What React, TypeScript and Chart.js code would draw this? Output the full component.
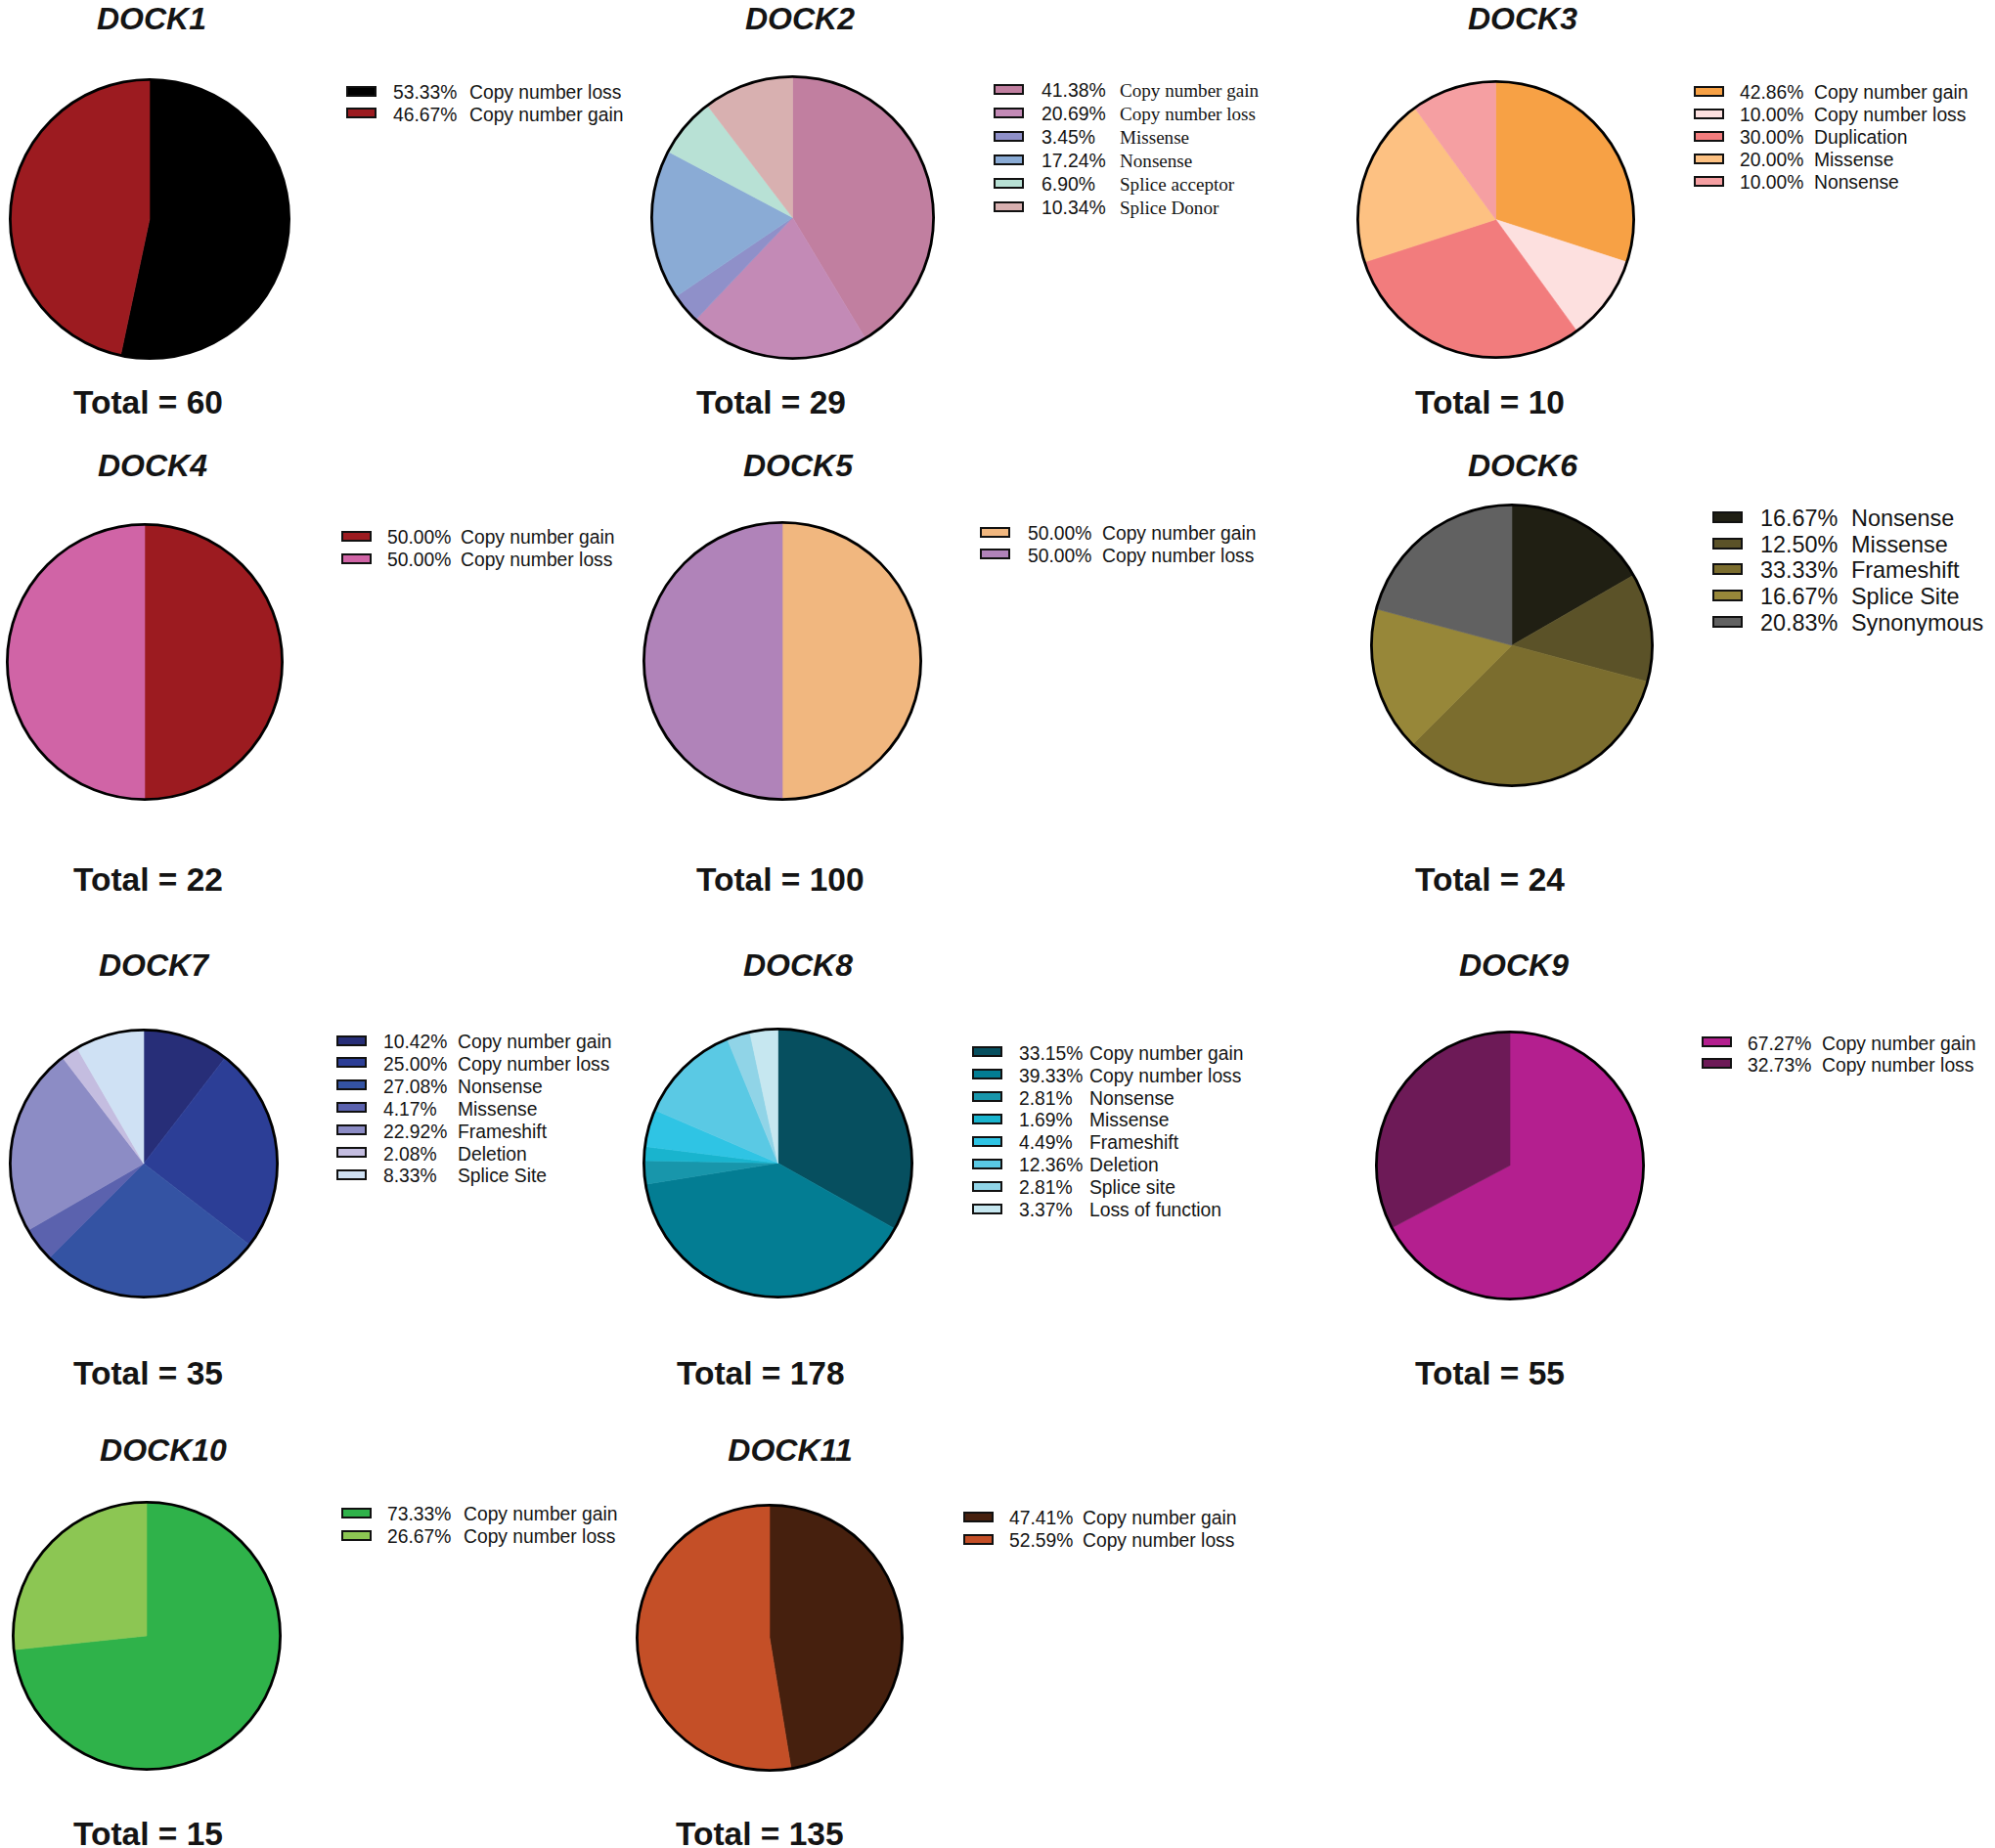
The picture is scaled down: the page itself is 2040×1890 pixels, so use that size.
import React, { useEffect, useRef } from 'react';
import { Chart, registerables } from 'chart.js';
Chart.register(...registerables);

const SANS = "'Liberation Sans', Arial, Helvetica, sans-serif";
const SERIF = "'Liberation Serif', 'Times New Roman', serif";

// ---------- DATA ----------
const dock1Labels = ['Copy number loss', 'Copy number gain'];
const dock1Pct = ['53.33%', '46.67%'];
const dock1Values = [53.33, 46.67];
const dock1Colors = ['#000000', '#9c1b20'];

const dock2Labels = ['Copy number gain', 'Copy number loss', 'Missense', 'Nonsense', 'Splice acceptor', 'Splice Donor'];
const dock2Pct = ['41.38%', '20.69%', '3.45%', '17.24%', '6.90%', '10.34%'];
const dock2Values = [41.38, 20.69, 3.45, 17.24, 6.9, 10.34];
const dock2Colors = ['#c17fa0', '#c38ab6', '#8f90c9', '#8aabd5', '#b8e1d5', '#d8b0b0'];

const dock3Labels = ['Copy number gain', 'Copy number loss', 'Duplication', 'Missense', 'Nonsense'];
const dock3Pct = ['42.86%', '10.00%', '30.00%', '20.00%', '10.00%'];
const dock3Values = [30, 10, 30, 20, 10];
const dock3Colors = ['#f7a145', '#fde0df', '#f27c7d', '#fdc182', '#f59fa2'];

const dock4Labels = ['Copy number gain', 'Copy number loss'];
const dock4Pct = ['50.00%', '50.00%'];
const dock4Values = [50, 50];
const dock4Colors = ['#9c1b20', '#d064a6'];

const dock5Labels = ['Copy number gain', 'Copy number loss'];
const dock5Pct = ['50.00%', '50.00%'];
const dock5Values = [50, 50];
const dock5Colors = ['#f1b77f', '#b083b9'];

const dock6Labels = ['Nonsense', 'Missense', 'Frameshift', 'Splice Site', 'Synonymous'];
const dock6Pct = ['16.67%', '12.50%', '33.33%', '16.67%', '20.83%'];
const dock6Values = [16.67, 12.5, 33.33, 16.67, 20.83];
const dock6Colors = ['#201f13', '#5b5228', '#7b6d2e', '#978739', '#616161'];

const dock7Labels = ['Copy number gain', 'Copy number loss', 'Nonsense', 'Missense', 'Frameshift', 'Deletion', 'Splice Site'];
const dock7Pct = ['10.42%', '25.00%', '27.08%', '4.17%', '22.92%', '2.08%', '8.33%'];
const dock7Values = [10.42, 25.0, 27.08, 4.17, 22.92, 2.08, 8.33];
const dock7Colors = ['#272e78', '#2c3e96', '#3453a3', '#5b62ae', '#8c8cc5', '#c4bde0', '#cfe1f4'];

const dock8Labels = ['Copy number gain', 'Copy number loss', 'Nonsense', 'Missense', 'Frameshift', 'Deletion', 'Splice site', 'Loss of function'];
const dock8Pct = ['33.15%', '39.33%', '2.81%', '1.69%', '4.49%', '12.36%', '2.81%', '3.37%'];
const dock8Values = [33.15, 39.33, 2.81, 1.69, 4.49, 12.36, 2.81, 3.37];
const dock8Colors = ['#064f5f', '#037d93', '#1896ab', '#19b4ce', '#2fc4e4', '#5ac9e4', '#90d4e7', '#c6e7f0'];

const dock9Labels = ['Copy number gain', 'Copy number loss'];
const dock9Pct = ['67.27%', '32.73%'];
const dock9Values = [67.27, 32.73];
const dock9Colors = ['#b41f8f', '#6d1a57'];

const dock10Labels = ['Copy number gain', 'Copy number loss'];
const dock10Pct = ['73.33%', '26.67%'];
const dock10Values = [73.33, 26.67];
const dock10Colors = ['#2fb24a', '#8cc653'];

const dock11Labels = ['Copy number gain', 'Copy number loss'];
const dock11Pct = ['47.41%', '52.59%'];
const dock11Values = [47.41, 52.59];
const dock11Colors = ['#46200e', '#c44f27'];

const titles = ['DOCK1', 'DOCK2', 'DOCK3', 'DOCK4', 'DOCK5', 'DOCK6', 'DOCK7', 'DOCK8', 'DOCK9', 'DOCK10', 'DOCK11'];
const totals = [60, 29, 10, 22, 100, 24, 35, 178, 55, 15, 135];

// ---------- LAYOUT ----------
type Panel = {
  labels: string[]; pct: string[]; values: number[]; colors: string[];
  cx: number; cy: number; r: number;
  tx: number; ty: number; totX: number; totY: number;
  boxX: number; numX: number; labX: number; rowY: number; step: number; fs: number; serifLabels?: boolean;
};

const panels: Panel[] = [
  { labels: dock1Labels, pct: dock1Pct, values: dock1Values, colors: dock1Colors, cx: 153, cy: 224, r: 144, tx: 155, ty: 18.5, totX: 75, totY: 411, boxX: 354, numX: 402, labX: 480, rowY: 93, step: 22.5, fs: 19.3 },
  { labels: dock2Labels, pct: dock2Pct, values: dock2Values, colors: dock2Colors, cx: 810, cy: 222.5, r: 145.5, tx: 818, ty: 18.5, totX: 712, totY: 411, boxX: 1016, numX: 1065, labX: 1145, rowY: 91, step: 24, fs: 19.4, serifLabels: true },
  { labels: dock3Labels, pct: dock3Pct, values: dock3Values, colors: dock3Colors, cx: 1529, cy: 224, r: 142.5, tx: 1557, ty: 18.5, totX: 1447, totY: 411, boxX: 1732, numX: 1779, labX: 1855, rowY: 93.3, step: 23, fs: 19.3 },
  { labels: dock4Labels, pct: dock4Pct, values: dock4Values, colors: dock4Colors, cx: 148, cy: 676.5, r: 142, tx: 156, ty: 476, totX: 75, totY: 899, boxX: 349, numX: 396, labX: 471, rowY: 548, step: 23, fs: 19.3 },
  { labels: dock5Labels, pct: dock5Pct, values: dock5Values, colors: dock5Colors, cx: 800, cy: 676, r: 143, tx: 816, ty: 476, totX: 712, totY: 899, boxX: 1002, numX: 1051, labX: 1127, rowY: 544, step: 22.5, fs: 19.3 },
  { labels: dock6Labels, pct: dock6Pct, values: dock6Values, colors: dock6Colors, cx: 1546, cy: 660, r: 145, tx: 1557, ty: 476, totX: 1447, totY: 899, boxX: 1751, numX: 1800, labX: 1893, rowY: 529, step: 26.7, fs: 23.4 },
  { labels: dock7Labels, pct: dock7Pct, values: dock7Values, colors: dock7Colors, cx: 147, cy: 1190, r: 138, tx: 157, ty: 987, totX: 75, totY: 1404, boxX: 344, numX: 392, labX: 468, rowY: 1064, step: 22.9, fs: 19.3 },
  { labels: dock8Labels, pct: dock8Pct, values: dock8Values, colors: dock8Colors, cx: 795.5, cy: 1189, r: 138.5, tx: 816, ty: 987, totX: 692, totY: 1404, boxX: 994, numX: 1042, labX: 1114, rowY: 1075.7, step: 22.9, fs: 19.3 },
  { labels: dock9Labels, pct: dock9Pct, values: dock9Values, colors: dock9Colors, cx: 1544, cy: 1192, r: 138, tx: 1548, ty: 987, totX: 1447, totY: 1404, boxX: 1740, numX: 1787, labX: 1863, rowY: 1065.7, step: 22, fs: 19.3 },
  { labels: dock10Labels, pct: dock10Pct, values: dock10Values, colors: dock10Colors, cx: 149.6, cy: 1673, r: 138, tx: 167, ty: 1483, totX: 75, totY: 1875, boxX: 349, numX: 396, labX: 474, rowY: 1547, step: 23, fs: 19.3 },
  { labels: dock11Labels, pct: dock11Pct, values: dock11Values, colors: dock11Colors, cx: 787, cy: 1675, r: 137, tx: 808, ty: 1483, totX: 691, totY: 1875, boxX: 985, numX: 1032, labX: 1107, rowY: 1551, step: 23, fs: 19.3 },
];

const outlinePlugin = {
  id: 'outline',
  afterDatasetsDraw(chart: any) {
    const arc = chart.getDatasetMeta(0).data[0];
    if (!arc) return;
    const p = arc.getProps(['x', 'y', 'outerRadius'], true);
    const ctx = chart.ctx;
    ctx.save();
    ctx.beginPath();
    ctx.arc(p.x, p.y, p.outerRadius, 0, Math.PI * 2);
    ctx.lineWidth = 2.8;
    ctx.strokeStyle = '#000';
    ctx.stroke();
    ctx.restore();
  },
};

function Pie({ values, colors, labels, cx, cy, r }: { values: number[]; colors: string[]; labels: string[]; cx: number; cy: number; r: number }) {
  const ref = useRef<HTMLCanvasElement>(null);
  const size = Math.ceil(2 * r + 12);
  useEffect(() => {
    const chart = new Chart(ref.current!, {
      type: 'pie',
      data: {
        labels,
        datasets: [{ data: values, backgroundColor: colors, borderColor: colors, borderWidth: 0.6 }],
      },
      options: {
        responsive: false,
        animation: false,
        devicePixelRatio: 1,
        radius: r - 1.4,
        layout: { padding: 0 },
        events: [],
        plugins: { legend: { display: false }, tooltip: { enabled: false }, title: { display: false } },
      } as any,
      plugins: [outlinePlugin],
    });
    return () => chart.destroy();
  }, []);
  return (
    <canvas
      ref={ref}
      width={size}
      height={size}
      style={{ position: 'absolute', left: cx - size / 2, top: cy - size / 2, width: size, height: size }}
    />
  );
}

function Txt({ x, y, fs, font, weight, italic, center, children, color }: any) {
  return (
    <div
      style={{
        position: 'absolute',
        left: x,
        top: y - 0.49 * fs,
        fontSize: fs,
        lineHeight: `${fs}px`,
        fontFamily: font,
        fontWeight: weight || 'normal',
        fontStyle: italic ? 'italic' : 'normal',
        whiteSpace: 'nowrap',
        transform: center ? 'translateX(-50%)' : undefined,
        color: color || '#141414',
      }}
    >
      {children}
    </div>
  );
}

function Legend({ p }: { p: Panel }) {
  return (
    <>
      {p.labels.map((lab, i) => {
        const y = p.rowY + i * p.step;
        const bh = p.fs > 21 ? 12 : 11;
        const bw = p.fs > 21 ? 31 : 31;
        return (
          <React.Fragment key={i}>
            <div
              style={{
                position: 'absolute',
                left: p.boxX,
                top: y - bh / 2,
                width: bw,
                height: bh,
                boxSizing: 'border-box',
                border: '2.5px solid #111',
                background: p.colors[i],
              }}
            />
            <Txt x={p.numX} y={y + 1.5} fs={p.fs} font={SANS}>{p.pct[i]}</Txt>
            <Txt x={p.labX} y={y + 1.5} fs={p.serifLabels ? p.fs - 0.3 : p.fs} font={p.serifLabels ? SERIF : SANS}>{lab}</Txt>
          </React.Fragment>
        );
      })}
    </>
  );
}

export default function App() {
  return (
    <div style={{ position: 'absolute', left: 0, top: 0, width: 2040, height: 1890, background: '#fff', overflow: 'hidden' }}>
      {panels.map((p, k) => (
        <React.Fragment key={k}>
          <Txt x={p.tx} y={p.ty} fs={32} font={SANS} weight="bold" italic center>{titles[k]}</Txt>
          <Pie values={p.values} colors={p.colors} labels={p.labels} cx={p.cx} cy={p.cy} r={p.r} />
          <Legend p={p} />
          <Txt x={p.totX} y={p.totY} fs={33.5} font={SANS} weight="bold">{`Total = ${totals[k]}`}</Txt>
        </React.Fragment>
      ))}
    </div>
  );
}
